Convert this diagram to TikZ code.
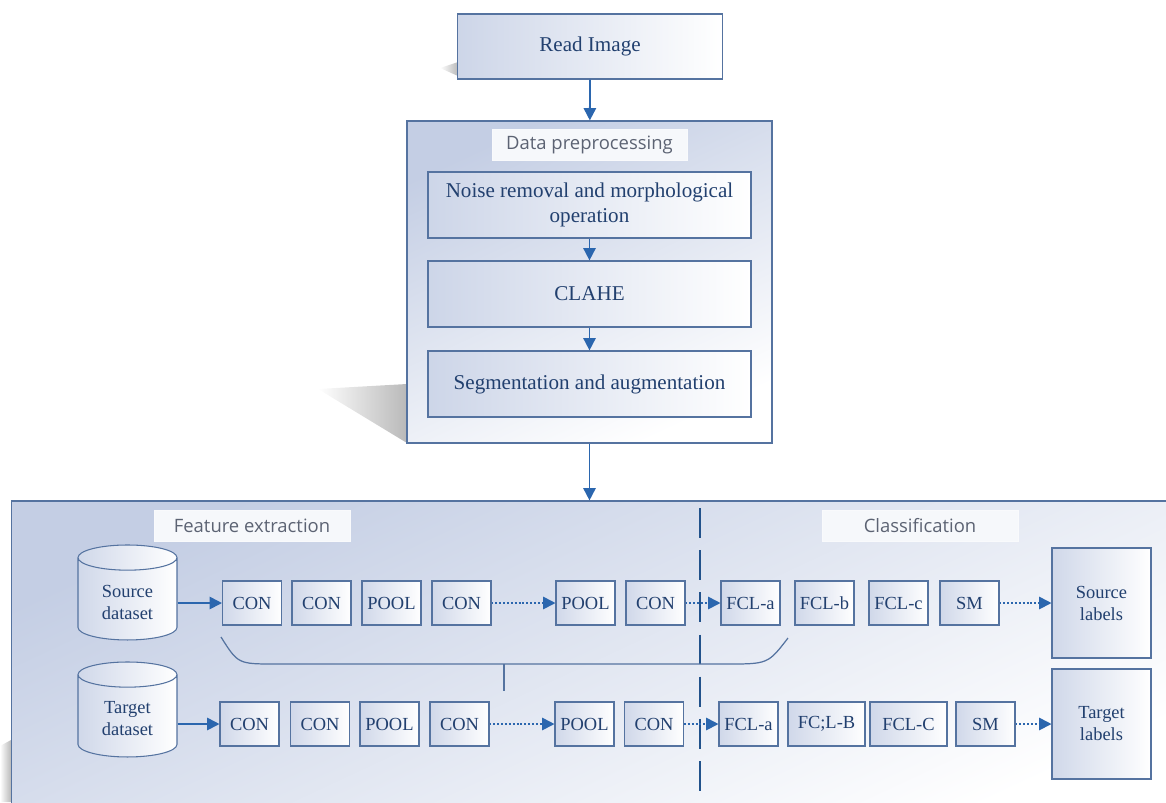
\documentclass[tikz,border=0pt]{standalone}
\usepackage{fontspec}
\setmainfont{Liberation Serif}
\newfontfamily\titlefont{Open Sans}
\usetikzlibrary{arrows.meta,shapes.geometric}

\definecolor{edgeblue}{HTML}{5573A0}
\definecolor{arrowblue}{HTML}{2B66AE}
\definecolor{inkblue}{HTML}{22406F}
\definecolor{paleblue}{HTML}{C4CEE4}
\definecolor{titlegray}{HTML}{5C6373}

\tikzset{
  panel/.style={draw=edgeblue, line width=0.7pt, top color=paleblue, bottom color=white, shading angle=25},
  paneltitle/.style={fill=white!85!paleblue, draw=white!90!paleblue, text=titlegray,
    font=\titlefont\fontsize{10.5}{12}\selectfont, minimum height=0.62cm},
  stagebox/.style={draw=edgeblue, line width=0.7pt, left color=paleblue!85, right color=white,
    text=inkblue, font=\fontsize{12}{14}\selectfont, align=center, minimum width=6.46cm, minimum height=1.32cm},
  layer/.style={draw=edgeblue, line width=0.6pt, left color=paleblue!80, right color=white,
    text=inkblue, font=\fontsize{10.5}{12}\selectfont, minimum height=0.88cm, inner sep=1pt},
  datastore/.style={cylinder, shape border rotate=90, aspect=0.4, draw=edgeblue, line width=0.6pt,
    left color=paleblue!80, right color=white, text=inkblue, align=center,
    font=\fontsize{10.5}{12.5}\selectfont, minimum width=1.98cm, minimum height=1.9cm},
  labelbox/.style={layer, align=center, font=\fontsize{10.5}{12.5}\selectfont, minimum width=1.98cm, minimum height=2.2cm},
  flow/.style={-{Triangle[length=7pt,width=7pt]}, draw=arrowblue, line width=1pt},
  dotflow/.style={flow, dash pattern=on 1.1pt off 1.1pt},
  castshadow/.style={left color=white, right color=gray!55}
}

\begin{document}
\begin{tikzpicture}[x=0.02cm,y=-0.02cm]
  \useasboundingbox (0,0) rectangle (1166,802);
  \clip (0,0) rectangle (1166,802);
  %
  % shadows
  \shade[castshadow] (318,389) -- (407,384) -- (407,443) -- cycle;
  \shade[castshadow] (440,68) -- (458,62) -- (458,76) -- cycle;
  \shade[castshadow] (1022,642) -- (1052,636) -- (1052,662) -- cycle;
  \shade[castshadow] (1022,763) -- (1052,757) -- (1052,783) -- cycle;
  \shade[castshadow] (0,746) -- (11,740) -- (11,802) -- (0,802) -- cycle;
  %
  % preprocessing
  \node[stagebox, minimum width=5.3cm, minimum height=1.3cm] (read) at (590,46.5) {Read Image};
  \node[panel, minimum width=7.3cm, minimum height=6.44cm] (prep) at (589.5,282) {};
  \node[paneltitle, minimum width=3.9cm] (preptitle) at (589.5,145) {Data preprocessing};
  \node[stagebox] (noise) at (589.5,205) {Noise removal and  morphological\\operation};
  \node[stagebox] (clahe) at (589.5,294) {CLAHE};
  \node[stagebox] (seg) at (589.5,384) {Segmentation and augmentation};
  \draw[flow] (read) -- (prep);
  \draw[flow] (noise) -- (clahe);
  \draw[flow] (clahe) -- (seg);
  %
  % network
  \node[panel, minimum width=23.38cm, minimum height=6.38cm] (model) at (595.5,660.5) {};
  \draw[flow] (prep.south) -- (prep.south |- model.north);
  \node[paneltitle, minimum width=3.92cm] (feattitle) at (252,526) {Feature extraction};
  \node[paneltitle, minimum width=3.92cm] (clstitle) at (920,526) {Classification};
  \draw[draw=arrowblue!80!black, line width=1.1pt, dash pattern=on 17pt off 7pt] (700,508) -- (700,802);
  %
  \node[datastore] (src) at (127.5,602) {Source\\dataset};
  \node[datastore] (tgt) at (127.5,719) {Target\\dataset};
  \foreach \n/\x/\t in {a1/252/CON, a2/321.5/CON, a3/391.5/POOL, a4/461.5/CON, a5/585.5/POOL,
      a6/655.5/CON, a7/750.5/FCL-a, a8/824.5/FCL-b, a9/898.5/FCL-c, a10/969.5/SM}
    \node[layer, minimum width=1.18cm] (\n) at (\x,603) {\t};
  \foreach \n/\x/\w/\t in {b1/249.5/1.18/CON, b2/320/1.18/CON, b3/389.5/1.18/POOL, b4/459.5/1.18/CON,
      b5/584.5/1.18/POOL, b6/654/1.18/CON, b7/748.5/1.18/FCL-a, b8/826.5/1.54/FC;L-B,
      b9/908.5/1.54/FCL-C, b10/985.5/1.18/SM}
    \node[layer, minimum width=\w cm] (\n) at (\x,724) {\t};
  \node[labelbox] (srclab) at (1101.5,603) {Source\\labels};
  \node[labelbox] (tgtlab) at (1101.5,724) {Target\\labels};
  %
  \draw[flow] (src.east |- a1) -- (a1);
  \draw[dotflow] (a4) -- (a5);
  \draw[dotflow] (a6) -- (a7);
  \draw[dotflow] (a10) -- (srclab);
  \draw[flow] (tgt.east |- b1) -- (b1);
  \draw[dotflow] (b4) -- (b5);
  \draw[dotflow] (b6) -- (b7);
  \draw[dotflow] (b10) -- (tgtlab);
  %
  % shared weights
  \coordinate (share) at (504,664);
  \draw[edgeblue, line width=0.7pt] (221,637) .. controls (238,664) .. (276,664) -- (726,664)
    .. controls (768,664) .. (788,638);
  \draw[edgeblue, line width=0.7pt] (share) -- ++(0,27);
\end{tikzpicture}
\end{document}
